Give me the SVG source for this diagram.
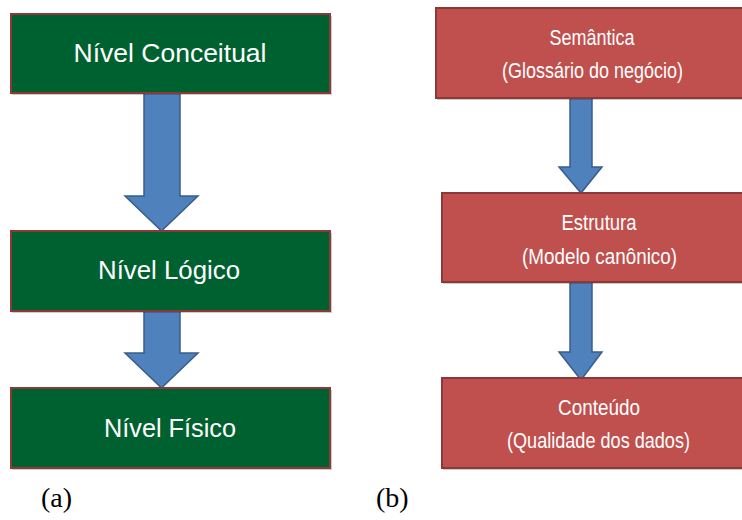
<svg xmlns="http://www.w3.org/2000/svg" width="742" height="520" viewBox="0 0 742 520">
  <defs>
    <style>
      .green { fill: #006130; stroke: #8C3A38; stroke-width: 2; }
      .red { fill: #C0504D; stroke: #8C3836; stroke-width: 2; }
      .shadow { fill: #000; opacity: 0.2; }
      .arrow { fill: #4F81BD; stroke: #385D8A; stroke-width: 1.5; stroke-linejoin: miter; }
      .lbl { font-family: "Liberation Sans", Arial, sans-serif; fill: #FFFFFF; text-anchor: middle; }
      .big { font-size: 26px; }
      .small { font-size: 22px; }
      .cap { font-family: "Liberation Serif", "Times New Roman", serif; font-size: 28px; fill: #000; }
    </style>
  </defs>
  <rect width="742" height="520" fill="#FFFFFF"/>

  <!-- connectors: block arrows -->
  <g id="connectors">
    <path class="arrow" d="M144,93 L180,93 L180,196 L198,196 L161.5,231 L125,196 L144,196 Z"/>
    <path class="arrow" d="M144,311 L180,311 L180,353 L198,353 L161.5,388 L125,353 L144,353 Z"/>
    <path class="arrow" d="M570,98 L592,98 L592,167 L602,167 L581,193 L559,167 L570,167 Z"/>
    <path class="arrow" d="M570,282 L592,282 L592,352 L602,352 L581,380 L559,352 L570,352 Z"/>
  </g>

  <!-- column (a): modelling levels -->
  <g id="nivel-conceitual">
    <rect class="shadow" x="12" y="16" width="320" height="79"/>
    <rect class="green" x="11" y="14" width="319" height="79"/>
    <text class="lbl big" x="170" y="62" textLength="193" lengthAdjust="spacingAndGlyphs">Nível Conceitual</text>
  </g>
  <g id="nivel-logico">
    <rect class="shadow" x="12" y="233" width="320" height="80"/>
    <rect class="green" x="11" y="231" width="319" height="80"/>
    <text class="lbl big" x="169" y="279" textLength="142" lengthAdjust="spacingAndGlyphs">Nível Lógico</text>
  </g>
  <g id="nivel-fisico">
    <rect class="shadow" x="12" y="390" width="320" height="80"/>
    <rect class="green" x="11" y="388" width="319" height="80"/>
    <text class="lbl big" x="170" y="437" textLength="132" lengthAdjust="spacingAndGlyphs">Nível Físico</text>
  </g>

  <!-- column (b): data layers -->
  <g id="semantica">
    <rect class="shadow" x="437" y="10" width="310" height="90"/>
    <rect class="red" x="436" y="8" width="310" height="90"/>
    <text class="lbl small" x="592" y="45" textLength="85" lengthAdjust="spacingAndGlyphs">Semântica</text>
    <text class="lbl small" x="592.5" y="78" textLength="181" lengthAdjust="spacingAndGlyphs">(Glossário do negócio)</text>
  </g>
  <g id="estrutura">
    <rect class="shadow" x="443" y="195" width="304" height="89"/>
    <rect class="red" x="442" y="193" width="304" height="89"/>
    <text class="lbl small" x="599" y="230" textLength="75" lengthAdjust="spacingAndGlyphs">Estrutura</text>
    <text class="lbl small" x="599.5" y="264" textLength="155" lengthAdjust="spacingAndGlyphs">(Modelo canônico)</text>
  </g>
  <g id="conteudo">
    <rect class="shadow" x="443" y="380" width="304" height="90"/>
    <rect class="red" x="442" y="378" width="304" height="90"/>
    <text class="lbl small" x="599" y="415" textLength="82" lengthAdjust="spacingAndGlyphs">Conteúdo</text>
    <text class="lbl small" x="598.5" y="448" textLength="183" lengthAdjust="spacingAndGlyphs">(Qualidade dos dados)</text>
  </g>

  <text class="cap" x="41" y="507">(a)</text>
  <text class="cap" x="376" y="507">(b)</text>
</svg>
